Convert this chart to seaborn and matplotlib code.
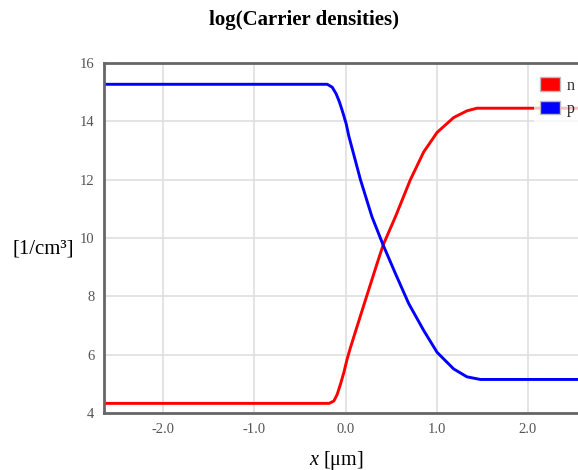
import numpy as np
import pandas as pd
import matplotlib
matplotlib.use("Agg")
import matplotlib.pyplot as plt
import seaborn as sns
from matplotlib.patches import Patch

# data
x_p = [-2.65, -0.20, -0.146, -0.102, -0.066, -0.030, 0.008, 0.036, 0.164, 0.29,
       0.413, 0.548, 0.694, 0.858, 1.005, 1.187, 1.333, 1.479, 2.65]
p_vals = [15.27, 15.27, 15.17, 14.94, 14.66, 14.31, 13.91, 13.50, 12.0, 10.73,
          9.76, 8.78, 7.75, 6.83, 6.08, 5.51, 5.24, 5.15, 5.15]
x_n = [-2.65, -0.18, -0.128, -0.091, -0.055, -0.018, 0.018, 0.055, 0.194, 0.347,
       0.413, 0.548, 0.712, 0.858, 1.005, 1.187, 1.333, 1.443, 2.65]
n_vals = [4.33, 4.33, 4.41, 4.64, 4.99, 5.39, 5.85, 6.25, 7.63, 9.13,
          9.76, 10.73, 12.0, 12.95, 13.62, 14.13, 14.36, 14.45, 14.45]
series = ["n", "p"]
colors = ["#ff0000", "#0000ff"]
x_ticks = [-2.0, -1.0, 0.0, 1.0, 2.0]
y_ticks = [4, 6, 8, 10, 12, 14, 16]

df = pd.concat([
    pd.DataFrame({"x": x_n, "y": n_vals, "s": "n"}),
    pd.DataFrame({"x": x_p, "y": p_vals, "s": "p"}),
])

sns.set_theme(style="white")
plt.rcParams["font.family"] = ["Liberation Serif", "DejaVu Serif"]
plt.rcParams["mathtext.fontset"] = "custom"
plt.rcParams["mathtext.it"] = "Liberation Serif:italic"
plt.rcParams["mathtext.rm"] = "Liberation Serif"

W, H = 578, 470
fig = plt.figure(figsize=(W / 100, H / 100), dpi=100)
left, right, top, bottom = 104, 587, 63, 413
ax = fig.add_axes([left / W, 1 - bottom / H, (right - left) / W, (bottom - top) / H])

sns.lineplot(data=df, x="x", y="y", hue="s", palette=dict(zip(series, colors)),
             sort=False, estimator=None, linewidth=2.1, ax=ax, legend=False)
for ln in ax.lines:
    ln.set_solid_joinstyle("round")
    ln.set_solid_capstyle("round")

ax.set_xlim(-2.65, 2.65)
ax.set_ylim(4, 16)
ax.set_xticks(x_ticks)
ax.set_xticklabels([f"{v:.1f}" for v in x_ticks])
ax.set_yticks(y_ticks)
ax.grid(True, color="#dddddd", linewidth=1.1)
ax.set_axisbelow(True)
ax.tick_params(axis="both", length=0, labelsize=10.5, colors="#555555", pad=7)
for s in ["left", "bottom", "top"]:
    ax.spines[s].set_color("#666666")
    ax.spines[s].set_linewidth(2)
ax.spines["right"].set_visible(False)
ax.set_xlabel("")
ax.set_ylabel("")

handles = [Patch(facecolor=c, edgecolor="#bbbbbb", linewidth=1) for c in colors]
leg = ax.legend(handles, series, loc="upper left",
                bbox_to_anchor=((526 - left) / (right - left), 1.0),
                frameon=True, fancybox=False, facecolor="white", edgecolor="none",
                framealpha=0.75, fontsize=11.5, handlelength=1.25, handleheight=0.9,
                labelspacing=0.45, handletextpad=0.4, borderaxespad=0.5)

fig.text(304 / W, 1 - 20 / H, "log(Carrier densities)", ha="center", va="center",
         fontsize=15, fontweight="bold", color="#000000")
fig.text(43 / W, 1 - 249 / H, "[1/cm³]", ha="center", va="center", fontsize=15, color="#000000")
fig.text(336 / W, 1 - 460 / H, r"$x$ [μm]", ha="center", va="center", fontsize=14.5, color="#000000")

fig.savefig("out.png", dpi=100)
